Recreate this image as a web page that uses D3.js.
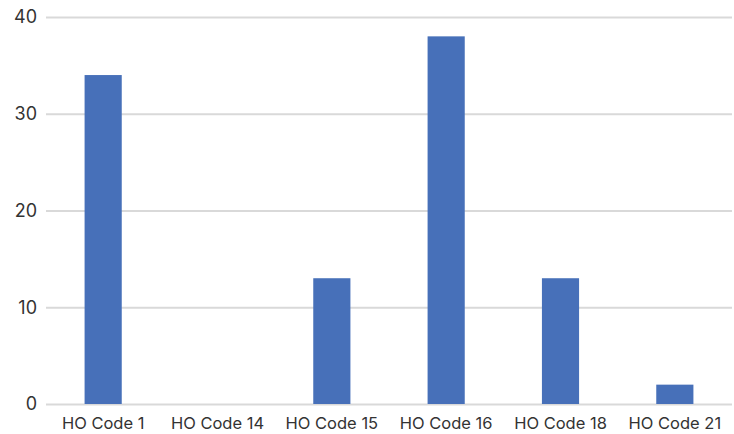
<!DOCTYPE html>
<html>
<head>
<meta charset="utf-8">
<script src="https://cdn.jsdelivr.net/npm/d3@7"></script>
<style>
  html, body { margin: 0; padding: 0; background: #fff; }
  svg { display: block; }
  text { font-family: Inter, "Open Sans", sans-serif; fill: #333; }
</style>
</head>
<body>
<svg id="chart" width="734" height="434"></svg>
<script>
const categories = ["HO Code 1", "HO Code 14", "HO Code 15", "HO Code 16", "HO Code 18", "HO Code 21"];
const counts = [34, 0, 13, 38, 13, 2];
const yTicks = [0, 10, 20, 30, 40];

const svg = d3.select("#chart");
const margin = { top: 17, right: 2, bottom: 30, left: 46 };
const width = 734 - margin.left - margin.right;
const height = 434 - margin.top - margin.bottom;

const g = svg.append("g").attr("transform", `translate(${margin.left},${margin.top})`);

const x = d3.scaleBand().domain(categories).range([0, width]).paddingInner(0.675).paddingOuter(0.3375);
const y = d3.scaleLinear().domain([0, 40]).range([height, 0]);

// horizontal gridlines with left-side value labels
const yAxis = g.append("g")
  .call(d3.axisLeft(y).tickValues(yTicks).tickSize(-width).tickPadding(9));
yAxis.select(".domain").remove();
yAxis.selectAll(".tick line").attr("stroke", "#d9d9d9").attr("stroke-width", 2);
yAxis.selectAll(".tick text").attr("font-size", 18).style("fill", "#333");

// bars
g.selectAll("rect.bar")
  .data(categories.map((c, i) => ({ c, v: counts[i] })))
  .join("rect")
  .attr("class", "bar")
  .attr("x", d => x(d.c))
  .attr("y", d => y(d.v))
  .attr("width", x.bandwidth())
  .attr("height", d => height - y(d.v))
  .attr("fill", "#4770b9");

// category labels
const xAxis = g.append("g")
  .attr("transform", `translate(0,${height})`)
  .call(d3.axisBottom(x).tickSize(0).tickPadding(13));
xAxis.select(".domain").remove();
xAxis.selectAll(".tick text").attr("font-size", 16.5).style("fill", "#333");
</script>
</body>
</html>
